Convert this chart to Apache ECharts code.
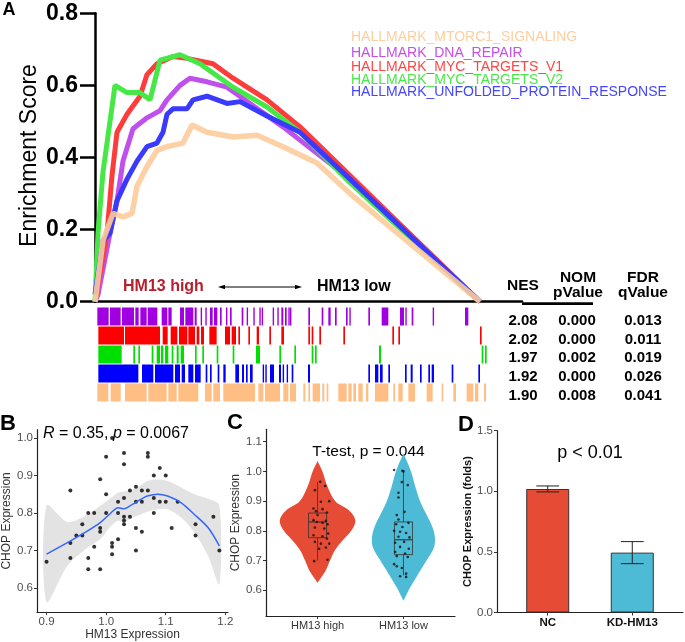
<!DOCTYPE html>
<html><head><meta charset="utf-8">
<script src="https://cdn.jsdelivr.net/npm/echarts@6/dist/echarts.min.js"></script>
<style>html,body{margin:0;padding:0;background:#fff}#c{width:685px;height:642px}</style>
</head><body><div id="c"></div>
<script>
// ================= DATA =================
// Panel A: running enrichment score (gene rank, ES)
const geneSets = ['HALLMARK_MTORC1_SIGNALING','HALLMARK_DNA_REPAIR','HALLMARK_MYC_TARGETS_V1','HALLMARK_MYC_TARGETS_V2','HALLMARK_UNFOLDED_PROTEIN_RESPONSE'];
const rankMtorc1 = [0,240,540,840,1110,1260,1560,1860,2160,2640,2910,3360,4140,4860,5640,6660,7650,11550];
const esMtorc1   = [0,0.17,0.245,0.235,0.245,0.32,0.375,0.42,0.43,0.44,0.49,0.47,0.457,0.462,0.43,0.385,0.30,0];
const rankDna = [0,90,450,660,840,1140,1560,1950,2160,2550,2850,3360,3960,4650,5640,7650,11550];
const esDna   = [0,0.02,0.19,0.28,0.39,0.48,0.51,0.53,0.56,0.60,0.62,0.61,0.595,0.55,0.485,0.34,0];
const rankMyc1 = [0,360,510,660,960,1350,1560,1860,2340,2760,3540,4140,5160,6150,7650,9150,11550];
const esMyc1   = [0,0.19,0.35,0.47,0.52,0.57,0.63,0.66,0.68,0.675,0.66,0.62,0.56,0.485,0.35,0.215,0];
const rankMyc2 = [0,90,240,600,960,1350,1650,1950,2550,3150,4140,5160,6150,7650,11550];
const esMyc2   = [0,0.19,0.36,0.60,0.58,0.58,0.56,0.67,0.685,0.66,0.595,0.54,0.47,0.33,0];
const rankUpr = [0,240,450,660,960,1260,1560,1860,2040,2160,2340,2760,2940,3360,3960,4350,5160,6150,7650,11550];
const esUpr   = [0.02,0.17,0.19,0.28,0.34,0.39,0.43,0.44,0.47,0.52,0.535,0.535,0.56,0.57,0.55,0.555,0.515,0.47,0.34,0];

// Panel A rug: hit ranges [start, end] by gene rank
const hitsDna = [[70,410],[450,770],[810,1170],[1210,1310],[1360,1550],[1580,1870],[2000,2170],[2200,2300],[2550,2670],[2710,2950],[2990,3050],[3170,3210],[3310,3350],[3450,3530],[3570,3670],[3750,3800],[3930,3970],[4050,4100],[4400,4450],[4550,4590],[4750,4790],[4930,4960],[5000,5030],[5330,5370],[5470,5510],[5590,5650],[5700,5750],[5800,5830],[5850,5890],[6400,6450],[6800,6850],[7000,7070],[7200,7250],[7530,7580],[7630,7670],[8200,8250],[8600,8800],[9150,9270],[9310,9350],[9500,9550],[10130,10170],[11100,11200]];
const hitsMyc1 = [[100,870],[900,1950],[2030,2180],[2270,2470],[2520,2770],[2800,3000],[3050,3130],[3180,3270],[3430,3650],[3900,4050],[4100,4230],[4300,4350],[4600,4650],[4850,4920],[5230,5280],[5590,5670],[6400,6450],[6500,6550],[6730,6780],[7450,7500],[8920,8970],[9100,9150],[11550,11600]];
const hitsMyc2 = [[100,800],[1150,1200],[1300,1350],[1700,1750],[1850,1950],[1980,2050],[2100,2200],[2300,2350],[2450,2510],[2570,2670],[3000,3050],[3220,3270],[3650,3700],[4130,4180],[4830,4950],[5530,5580],[5980,6030],[6500,6550],[6600,6650],[8520,8580],[11600,11650],[11700,11750]];
const hitsUpr = [[100,1300],[1410,1750],[1800,2350],[2400,2550],[2600,2700],[2800,2950],[3000,3170],[3320,3370],[3450,3500],[3680,3730],[3850,3920],[4210,4320],[4410,4470],[4530,4580],[4650,4730],[5030,5070],[5110,5150],[5250,5370],[5520,5580],[5630,5670],[5750,5790],[5900,5950],[6390,6450],[8200,8250],[8400,8500],[8550,8630],[8800,8850],[9300,9350],[9470,9530],[9750,9800],[10000,10050],[10100,10170],[10700,10750],[11500,11550]];
const hitsMtorc1 = [[70,400],[470,770],[900,1550],[1600,2150],[2200,2450],[2500,3100],[3300,3500],[3550,3750],[3850,4800],[4900,5050],[5100,5550],[5650,5800],[5850,6030],[6250,6310],[6400,6450],[6530,6750],[6820,6880],[6950,7000],[7300,7550],[7600,7700],[7750,7830],[7900,8030],[8130,8200],[8400,8800],[8950,9000],[9100,9230],[9400,9600],[9950,10130],[10400,10450],[10750,10830],[11150,11350],[11400,11500],[11670,11730]];

// Panel A table (rows: DNA_REPAIR, MYC_V1, MYC_V2, UPR, MTORC1)
const nesVals  = ['2.08','2.02','1.97','1.92','1.90'];
const nomPVals = ['0.000','0.000','0.002','0.000','0.008'];
const fdrQVals = ['0.013','0.011','0.019','0.026','0.041'];

// Panel B: scatter HM13 vs CHOP
const hm13 = [0.90,0.94,0.94,0.94,0.95,0.96,0.96,0.97,0.97,0.97,0.98,0.98,0.99,0.99,0.99,0.99,1.00,1.00,1.00,1.01,1.02,1.02,1.02,1.01,1.01,1.01,1.03,1.03,1.03,1.03,1.03,1.03,1.04,1.04,1.05,1.05,1.05,1.05,1.06,1.06,1.06,1.07,1.07,1.07,1.08,1.08,1.08,1.09,1.09,1.10,1.10,1.11,1.12,1.15,1.15,1.18,1.19];
const chop = [0.67,0.86,0.72,0.68,0.74,0.77,0.74,0.80,0.68,0.65,0.80,0.71,0.89,0.76,0.75,0.65,0.95,0.85,0.80,1.00,0.83,0.80,0.73,0.72,0.71,0.69,0.96,0.93,0.84,0.79,0.78,0.77,0.86,0.79,0.87,0.83,0.76,0.70,0.86,0.83,0.75,0.96,0.95,0.86,0.90,0.84,0.80,0.92,0.83,0.90,0.83,0.76,0.83,0.77,0.74,0.79,0.70];
const loessX  = [0.90,0.935,0.969,0.99,1.008,1.02,1.03,1.044,1.058,1.069,1.087,1.103,1.126,1.148,1.171,1.19];
const loessY  = [0.69,0.721,0.752,0.774,0.80,0.814,0.811,0.823,0.836,0.845,0.85,0.845,0.827,0.796,0.761,0.712];
const ciUpper = [0.82,0.776,0.796,0.819,0.84,0.854,0.857,0.862,0.874,0.885,0.889,0.885,0.868,0.85,0.838,0.82];
const ciLower = [0.562,0.659,0.708,0.73,0.765,0.779,0.774,0.787,0.796,0.803,0.81,0.81,0.788,0.748,0.686,0.61];

// Panel C: violin (CHOP value, relative density) per group
const groupsC = ['HM13 high','HM13 low'];
const violinHigh = [[1.035,0],[1.0,0.13],[0.95,0.26],[0.90,0.47],[0.87,0.82],[0.835,1.0],[0.80,0.89],[0.77,0.68],[0.735,0.46],[0.70,0.33],[0.665,0.21],[0.635,0.05],[0.625,0]];
const violinLow  = [[1.06,0],[1.0,0.2],[0.95,0.31],[0.90,0.44],[0.86,0.59],[0.815,0.76],[0.78,0.83],[0.745,0.81],[0.70,0.61],[0.655,0.39],[0.61,0.18],[0.565,0]];
// box: [min, Q1, median, Q3, max]
const boxHigh = [0.70,0.777,0.83,0.86,0.965];
const boxLow  = [0.65,0.72,0.77,0.83,1.00];
// jittered points: [jitter, value]
const ptsHigh = [[0.031,0.965],[0.089,0.951],[-0.031,0.937],[0.136,0.90],[0.039,0.898],[-0.047,0.875],[0.058,0.873],[-0.019,0.866],[0.109,0.862],[0,0.853],[-0.047,0.836],[0.097,0.834],[-0.008,0.83],[0.058,0.827],[0.116,0.822],[-0.031,0.811],[0.078,0.808],[0.124,0.791],[-0.047,0.785],[0.058,0.782],[-0.031,0.763],[0.109,0.774],[0.039,0.757],[0.136,0.757],[0.097,0.744],[0.019,0.74],[-0.039,0.698],[0.116,0.703]];
const ptsLow = [[-0.109,1.005],[-0.012,1.002],[0,1.0],[-0.019,0.964],[0.05,0.954],[-0.058,0.928],[-0.058,0.912],[0.012,0.864],[-0.078,0.853],[-0.058,0.838],[-0.085,0.822],[0.058,0.827],[-0.012,0.813],[-0.109,0.80],[-0.039,0.797],[0.031,0.793],[-0.058,0.78],[0.07,0.778],[0.008,0.763],[-0.097,0.76],[-0.039,0.746],[0.062,0.74],[-0.097,0.729],[0.019,0.724],[-0.078,0.715],[0.05,0.712],[-0.109,0.688],[-0.078,0.681],[-0.019,0.675],[0.031,0.656],[-0.039,0.647],[0.031,0.645]];

// Panel D: bar with error bars
const groupsD = ['NC','KD-HM13'];
const meanD = [1.019,0.494];
const errLowD = [0.995,0.403];
const errHighD = [1.044,0.585];

// ================= CHART =================
const FONT = "'Liberation Sans', Arial, Helvetica, sans-serif";
const cPurple='#C050EE', cRed='#FF3C3C', cGreen='#45E845', cBlue='#3A3AFF', cOrange='#FDCB9C';
const rugColors = ['#A000E0','#FF0000','#00E000','#0000FF','#FFBE84'];
const cHigh='#E64B35', cLow='#4DBBD5';
const zip = (a,b)=>a.map((v,i)=>[v,b[i]]);

const rugData = [];
[hitsDna,hitsMyc1,hitsMyc2,hitsUpr,hitsMtorc1].forEach((arr,row)=>arr.forEach(h=>rugData.push([h[0],h[1],row])));

const ggAxis = (extra)=>Object.assign({
  axisLine:{show:true,lineStyle:{color:'#222',width:1.2}},
  axisTick:{show:true,length:3,lineStyle:{color:'#333',width:1}},
  axisLabel:{color:'#4D4D4D',fontSize:11.5,margin:4,fontFamily:FONT},
  splitLine:{show:false}
},extra);

const option = {
  animation:false,
  backgroundColor:'#fff',
  textStyle:{fontFamily:FONT},
  grid:[
    {left:95, top:13.3, width:427, height:288.4},
    {left:95, top:307, width:427, height:95},
    {left:37, top:429.7, width:191, height:183.6},
    {left:266, top:429.3, width:189, height:186.7},
    {left:497, top:430.7, width:186, height:181.8}
  ],
  xAxis:[
    {gridIndex:0,type:'value',min:0,max:12810,axisLine:{lineStyle:{color:'#000',width:2.5}},axisTick:{show:false},axisLabel:{show:false},splitLine:{show:false}},
    {gridIndex:1,type:'value',min:0,max:12810,show:false},
    ggAxis({gridIndex:2,type:'value',min:0.884,max:1.2045,
      axisTick:{show:true,length:3,customValues:[0.9,1.0,1.1,1.2],lineStyle:{color:'#333'}},
      axisLabel:{color:'#4D4D4D',fontSize:11.5,margin:4,customValues:[0.9,1.0,1.1,1.2],formatter:v=>v.toFixed(1)},
      name:'HM13 Expression',nameLocation:'middle',nameGap:16,nameTextStyle:{color:'#333',fontSize:12}}),
    ggAxis({gridIndex:3,type:'value',min:0.4,max:2.6,
      axisTick:{show:true,length:3,customValues:[1,2],lineStyle:{color:'#333'}},
      axisLabel:{color:'#333',fontSize:11,margin:4,customValues:[1,2],formatter:v=>groupsC[Math.round(v)-1]}}),
    ggAxis({gridIndex:4,type:'value',min:0.4,max:2.6,
      axisTick:{show:true,length:3,customValues:[1,2],lineStyle:{color:'#333'}},
      axisLabel:{color:'#111',fontSize:11.5,fontWeight:'bold',margin:4,customValues:[1,2],formatter:v=>groupsD[Math.round(v)-1]}})
  ],
  yAxis:[
    {gridIndex:0,type:'value',min:0,max:0.8,interval:0.2,
      axisLine:{show:true,lineStyle:{color:'#000',width:2.5}},
      axisTick:{show:true,length:15,lineStyle:{color:'#000',width:2.5}},
      axisLabel:{color:'#000',fontSize:23,fontWeight:'bold',margin:17,formatter:v=>v.toFixed(1)},
      splitLine:{show:false}},
    {gridIndex:1,type:'value',min:-0.5,max:4.5,inverse:true,show:false},
    ggAxis({gridIndex:2,type:'value',min:0.5356,max:1.022,
      axisTick:{show:true,length:3,customValues:[0.6,0.7,0.8,0.9,1.0],lineStyle:{color:'#333'}},
      axisLabel:{color:'#4D4D4D',fontSize:11.5,margin:4,customValues:[0.6,0.7,0.8,0.9,1.0],formatter:v=>v.toFixed(1)},
      name:'CHOP Expression',nameLocation:'middle',nameGap:18,nameTextStyle:{color:'#333',fontSize:12}}),
    ggAxis({gridIndex:3,type:'value',min:0.5135,max:1.1417,
      axisTick:{show:true,length:3,customValues:[0.6,0.7,0.8,0.9,1.0,1.1],lineStyle:{color:'#333'}},
      axisLabel:{color:'#4D4D4D',fontSize:11.5,margin:4,customValues:[0.6,0.7,0.8,0.9,1.0,1.1],formatter:v=>v.toFixed(1)},
      name:'CHOP Expression',nameLocation:'middle',nameGap:16,nameTextStyle:{color:'#333',fontSize:12}}),
    ggAxis({gridIndex:4,type:'value',min:0,max:1.5,interval:0.5,
      axisLabel:{color:'#4D4D4D',fontSize:11.5,margin:4,formatter:v=>v.toFixed(1)},
      name:'CHOP Expression (folds)',nameLocation:'middle',nameGap:18,nameTextStyle:{color:'#111',fontSize:11,fontWeight:'bold'}})
  ],
  series:[
    // ---- A curves
    {type:'line',xAxisIndex:0,yAxisIndex:0,data:zip(rankDna,esDna),showSymbol:false,lineStyle:{color:cPurple,width:5},itemStyle:{color:cPurple}},
    {type:'line',xAxisIndex:0,yAxisIndex:0,data:zip(rankMyc1,esMyc1),showSymbol:false,lineStyle:{color:cRed,width:5},itemStyle:{color:cRed}},
    {type:'line',xAxisIndex:0,yAxisIndex:0,data:zip(rankMyc2,esMyc2),showSymbol:false,lineStyle:{color:cGreen,width:5},itemStyle:{color:cGreen}},
    {type:'line',xAxisIndex:0,yAxisIndex:0,data:zip(rankUpr,esUpr),showSymbol:false,lineStyle:{color:cBlue,width:5},itemStyle:{color:cBlue}},
    {type:'line',xAxisIndex:0,yAxisIndex:0,data:zip(rankMtorc1,esMtorc1),showSymbol:false,lineStyle:{color:cOrange,width:5.5,opacity:0.9},itemStyle:{color:cOrange}},
    // ---- A rug
    {type:'custom',xAxisIndex:1,yAxisIndex:1,data:rugData,encode:{x:[0,1],y:2},
      renderItem:(params,api)=>{
        const s=api.coord([api.value(0),api.value(2)]);
        const e=api.coord([api.value(1),api.value(2)]);
        const h=api.size([0,1])[1];
        return {type:'rect',shape:{x:s[0],y:s[1]-h/2+0.5,width:Math.max(e[0]-s[0],1.4),height:h-1},style:{fill:rugColors[api.value(2)]}};
      }},
    // ---- B CI band (polygon through lower and upper limits)
    {type:'custom',xAxisIndex:2,yAxisIndex:2,data:loessX.map((x,i)=>[x,ciLower[i],ciUpper[i]]),encode:{x:0,y:[1,2]},silent:true,
      renderItem:(params,api)=>{
        if(params.dataIndexInside!==0) return null;
        const n=params.dataInsideLength; const up=[], lo=[];
        for(let i=0;i<n;i++){
          const x=api.value(0,i);
          lo.push(api.coord([x,api.value(1,i)]));
          up.unshift(api.coord([x,api.value(2,i)]));
        }
        return {type:'polygon',shape:{points:lo.concat(up),smooth:0.3},style:{fill:'#E3E3E3'}};
      }},
    {type:'scatter',xAxisIndex:2,yAxisIndex:2,data:zip(hm13,chop),symbolSize:4,itemStyle:{color:'#000'},z:3},
    {type:'line',xAxisIndex:2,yAxisIndex:2,data:zip(loessX,loessY),showSymbol:false,smooth:0.3,lineStyle:{color:'#3366FF',width:1.5},z:4},
    // ---- C violins
    {type:'custom',xAxisIndex:3,yAxisIndex:3,data:[[1,0],[2,1]],encode:{x:0},
      renderItem:(params,api)=>{
        const x=api.value(0); const g=api.value(1);
        const dens = g===0?violinHigh:violinLow;
        const unit = api.size([1,0])[0]*0.44;
        const right=[], left=[];
        dens.forEach(d=>{const p=api.coord([x,d[0]]); right.push([p[0]+d[1]*unit,p[1]]); left.unshift([p[0]-d[1]*unit,p[1]]);});
        return {type:'polygon',shape:{points:right.concat(left),smooth:0.35},style:{fill:g===0?cHigh:cLow}};
      }},
    // ---- C boxes
    {type:'custom',xAxisIndex:3,yAxisIndex:3,data:[[1].concat(boxHigh),[2].concat(boxLow)],encode:{x:0,y:[1,2,3,4,5]},
      renderItem:(params,api)=>{
        const x=api.value(0);
        const w=api.size([0.21,0])[0];
        const pMin=api.coord([x,api.value(1)]),pQ1=api.coord([x,api.value(2)]),pMed=api.coord([x,api.value(3)]),pQ3=api.coord([x,api.value(4)]),pMax=api.coord([x,api.value(5)]);
        const st={stroke:'#333',lineWidth:0.8,fill:null};
        return {type:'group',children:[
          {type:'line',shape:{x1:pMin[0],y1:pMin[1],x2:pQ1[0],y2:pQ1[1]},style:st},
          {type:'line',shape:{x1:pQ3[0],y1:pQ3[1],x2:pMax[0],y2:pMax[1]},style:st},
          {type:'rect',shape:{x:pQ3[0]-w/2,y:pQ3[1],width:w,height:pQ1[1]-pQ3[1]},style:{stroke:'#333',lineWidth:0.8,fill:'rgba(0,0,0,0)'}},
          {type:'line',shape:{x1:pMed[0]-w/2,y1:pMed[1],x2:pMed[0]+w/2,y2:pMed[1]},style:{stroke:'#333',lineWidth:1.1}}
        ]};
      }},
    // ---- C points
    {type:'scatter',xAxisIndex:3,yAxisIndex:3,data:ptsHigh.map(p=>[1+p[0],p[1]]).concat(ptsLow.map(p=>[2+p[0],p[1]])),symbolSize:2.6,itemStyle:{color:'#111'}},
    // ---- D bars
    {type:'bar',xAxisIndex:4,yAxisIndex:4,barWidth:43,
      data:meanD.map((v,i)=>({value:[i+1,v],itemStyle:{color:i===0?cHigh:cLow,borderColor:'#333',borderWidth:1}}))},
    {type:'custom',xAxisIndex:4,yAxisIndex:4,data:meanD.map((v,i)=>[i+1,errLowD[i],errHighD[i]]),encode:{x:0,y:[1,2]},z:5,
      renderItem:(params,api)=>{
        const lo=api.coord([api.value(0),api.value(1)]),hi=api.coord([api.value(0),api.value(2)]);
        const w=api.size([0.27,0])[0];
        const st={stroke:'#222',lineWidth:1};
        return {type:'group',children:[
          {type:'line',shape:{x1:lo[0],y1:lo[1],x2:hi[0],y2:hi[1]},style:st},
          {type:'line',shape:{x1:lo[0]-w/2,y1:lo[1],x2:lo[0]+w/2,y2:lo[1]},style:st},
          {type:'line',shape:{x1:hi[0]-w/2,y1:hi[1],x2:hi[0]+w/2,y2:hi[1]},style:st}
        ]};
      }}
  ],
  graphic:[]
};

const G = option.graphic;
const txt=(x,y,text,o)=>G.push(Object.assign({type:'text',x:x,y:y,style:Object.assign({text:text,fontFamily:FONT,textAlign:'center',textVerticalAlign:'middle',fill:'#000'},o||{})}));
// panel letters
txt(9,10,'A',{fontSize:18,fontWeight:'bold'});
txt(8,424,'B',{fontSize:22,fontWeight:'bold'});
txt(235,423,'C',{fontSize:22,fontWeight:'bold'});
txt(466,425,'D',{fontSize:22,fontWeight:'bold'});
// A y title
G.push({type:'text',x:30,y:155.5,rotation:Math.PI/2,style:{text:'Enrichment Score',fontFamily:FONT,fontSize:23,textAlign:'center',textVerticalAlign:'middle',fill:'#000'}});
// A legend
const legendColors=['#FDCFA0','#C54FEA','#FF4646','#48E848','#4646FF'];
const legendY=[37,53,67,80,92];
geneSets.forEach((n,i)=>txt(351,legendY[i],n,{fontSize:14,textAlign:'left',fill:legendColors[i]}));
// A direction labels
txt(123,287,'HM13 high',{fontSize:16,fontWeight:'bold',textAlign:'left',fill:'#B5202E'});
txt(317,287,'HM13 low',{fontSize:16,fontWeight:'bold',textAlign:'left',fill:'#000'});
G.push({type:'line',shape:{x1:222,y1:287,x2:298,y2:287},style:{stroke:'#000',lineWidth:1}});
G.push({type:'polygon',shape:{points:[[218,287],[225,284.8],[225,289.2]]},style:{fill:'#000'}});
G.push({type:'polygon',shape:{points:[[302,287],[295,284.8],[295,289.2]]},style:{fill:'#000'}});
// A table
G.push({type:'rect',shape:{x:522,y:302.3,width:71,height:2.6},style:{fill:'#000'}});
txt(523,286,'NES',{fontSize:15.5,fontWeight:'bold'});
txt(578,278,'NOM',{fontSize:15.5,fontWeight:'bold'});
txt(578,293,'pValue',{fontSize:15.5,fontWeight:'bold'});
txt(643,278,'FDR',{fontSize:15.5,fontWeight:'bold'});
txt(643,293,'qValue',{fontSize:15.5,fontWeight:'bold'});
const rowY=[321,340,358,377,396];
nesVals.forEach((v,i)=>{
  txt(523,rowY[i],v,{fontSize:15,fontWeight:'bold'});
  txt(577,rowY[i],nomPVals[i],{fontSize:15,fontWeight:'bold'});
  txt(643,rowY[i],fdrQVals[i],{fontSize:15,fontWeight:'bold'});
});
// B annotation
G.push({type:'text',x:116,y:434,z:10,style:{text:'{i|R} = 0.35, {i|p} = 0.0067',fontFamily:FONT,fontSize:16,textAlign:'center',textVerticalAlign:'middle',fill:'#000',rich:{i:{fontStyle:'italic',fontSize:16,fontFamily:FONT,fill:'#000'}}}});
// C annotation
txt(368.5,452,'T-test, p = 0.044',{fontSize:15.5});
// D annotation
txt(590,453,'p < 0.01',{fontSize:18});

const chart = echarts.init(document.getElementById('c'),null,{renderer:'canvas'});
chart.setOption(option);
</script></body></html>
